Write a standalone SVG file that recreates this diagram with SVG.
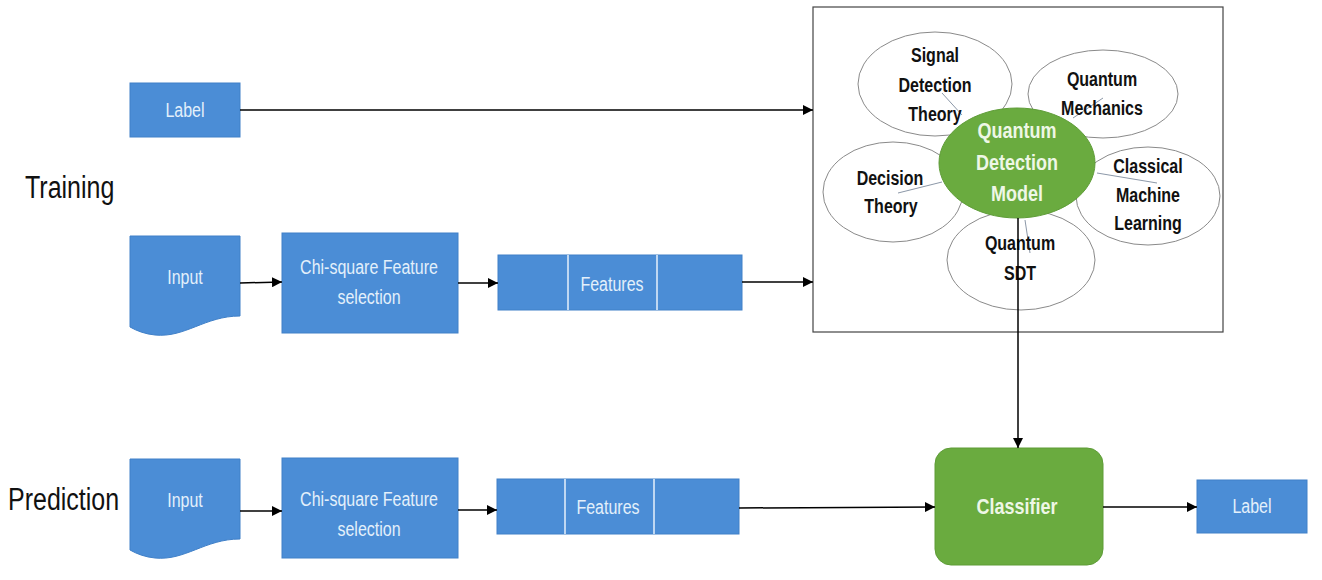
<svg xmlns="http://www.w3.org/2000/svg" width="1322" height="580" viewBox="0 0 1322 580">
<defs>
<marker id="ah" viewBox="0 0 10 10" refX="10" refY="5" markerWidth="10" markerHeight="10" markerUnits="userSpaceOnUse" orient="auto">
<path d="M0,0 L10,5 L0,10 Z" fill="#000"/>
</marker>
<style>
.blue{fill:#4B8DD6;stroke:#4080C8;stroke-width:1}
.div{stroke:#E6F1FB;stroke-width:1.5}
.green{fill:#6AAB3F;stroke:#5E9C37;stroke-width:1}
.bt{font-family:"Liberation Sans",Arial,sans-serif;font-size:16px;fill:#E3F0FB;text-anchor:middle}
.ct{font-family:"Liberation Sans",Arial,sans-serif;font-size:18px;font-weight:bold;fill:#EEF7E6;text-anchor:middle}
.pt{font-family:"Liberation Sans",Arial,sans-serif;font-size:16px;font-weight:bold;fill:#111;text-anchor:middle}
.st{font-family:"Liberation Sans",Arial,sans-serif;font-size:25px;fill:#111}
.pet{fill:#fff;stroke:#8a8a8a;stroke-width:1}
.faint{stroke:#8C98A8;stroke-width:1}
.conn{stroke:#000;stroke-width:1.5;fill:none;marker-end:url(#ah)}
</style>
</defs>
<rect width="1322" height="580" fill="#fff"/>

<g id="stage-labels">
<text class="st" transform="translate(25,198) scale(1,1.25)">Training</text>
<text class="st" transform="translate(8,510) scale(1,1.25)">Prediction</text>
</g>

<g id="label-train">
<rect class="blue" x="130" y="83" width="110" height="54"/>
<text class="bt" transform="translate(185,117) scale(1,1.25)">Label</text>
</g>

<g id="input-train">
<path class="blue" d="M130,236 H240 V316 C205,316 185,338 155,335 C145,334 137,331 130,327 Z"/>
<text class="bt" transform="translate(185,284) scale(1,1.25)">Input</text>
</g>

<g id="chi-train">
<rect class="blue" x="282" y="233" width="176" height="100"/>
<text class="bt" transform="translate(369,274) scale(1,1.25)">Chi-square Feature</text>
<text class="bt" transform="translate(369,304) scale(1,1.25)">selection</text>
</g>

<g id="features-train">
<rect class="blue" x="498" y="255" width="244" height="55"/>
<line class="div" x1="568" y1="255" x2="568" y2="310"/>
<line class="div" x1="657" y1="255" x2="657" y2="310"/>
<text class="bt" transform="translate(612,291) scale(1,1.25)">Features</text>
</g>

<g id="model-box">
<rect x="813" y="7" width="410" height="325" fill="#fff" stroke="#444" stroke-width="1.2"/>
<g id="petal-signal">
<ellipse class="pet" cx="935" cy="84" rx="77" ry="52"/>
<line class="faint" x1="942" y1="93" x2="962" y2="115"/>
<text class="pt" transform="translate(935,62) scale(1,1.25)">Signal</text>
<text class="pt" transform="translate(935,92) scale(1,1.25)">Detection</text>
<text class="pt" transform="translate(935,121) scale(1,1.25)">Theory</text>
</g>
<g id="petal-qm">
<ellipse class="pet" cx="1103" cy="94" rx="75" ry="44"/>
<line class="faint" x1="1103" y1="98" x2="1073" y2="118"/>
<text class="pt" transform="translate(1102,86) scale(1,1.25)">Quantum</text>
<text class="pt" transform="translate(1102,115) scale(1,1.25)">Mechanics</text>
</g>
<g id="petal-decision">
<ellipse class="pet" cx="893" cy="192" rx="70" ry="50"/>
<line class="faint" x1="898" y1="193" x2="942" y2="182"/>
<text class="pt" transform="translate(890,185) scale(1,1.25)">Decision</text>
<text class="pt" transform="translate(891,213) scale(1,1.25)">Theory</text>
</g>
<g id="petal-cml">
<ellipse class="pet" cx="1148" cy="196" rx="72" ry="49"/>
<line class="faint" x1="1097" y1="173" x2="1157" y2="183"/>
<text class="pt" transform="translate(1148,173) scale(1,1.25)">Classical</text>
<text class="pt" transform="translate(1148,202) scale(1,1.25)">Machine</text>
<text class="pt" transform="translate(1148,230) scale(1,1.25)">Learning</text>
</g>
<g id="petal-qsdt">
<ellipse class="pet" cx="1021" cy="260" rx="74" ry="50"/>
<line class="faint" x1="1025" y1="220" x2="1030" y2="253"/>
<text class="pt" transform="translate(1020,250) scale(1,1.25)">Quantum</text>
<text class="pt" transform="translate(1020,280) scale(1,1.25)">SDT</text>
</g>
<g id="qdm">
<ellipse class="green" cx="1017" cy="163" rx="78" ry="55"/>
<text class="ct" transform="translate(1017,138) scale(1,1.25)">Quantum</text>
<text class="ct" transform="translate(1017,170) scale(1,1.25)">Detection</text>
<text class="ct" transform="translate(1017,201) scale(1,1.25)">Model</text>
</g>
</g>

<g id="input-pred">
<path class="blue" d="M130,459 H240 V539 C205,539 185,561 155,558 C145,557 137,554 130,550 Z"/>
<text class="bt" transform="translate(185,507) scale(1,1.25)">Input</text>
</g>

<g id="chi-pred">
<rect class="blue" x="282" y="458" width="176" height="100"/>
<text class="bt" transform="translate(369,506) scale(1,1.25)">Chi-square Feature</text>
<text class="bt" transform="translate(369,536) scale(1,1.25)">selection</text>
</g>

<g id="features-pred">
<rect class="blue" x="497" y="479" width="242" height="55"/>
<line class="div" x1="565" y1="479" x2="565" y2="534"/>
<line class="div" x1="654" y1="479" x2="654" y2="534"/>
<text class="bt" transform="translate(608,514) scale(1,1.25)">Features</text>
</g>

<g id="classifier">
<rect class="green" x="935" y="448" width="168" height="117" rx="16" ry="16"/>
<text class="ct" transform="translate(1017,514) scale(1,1.25)">Classifier</text>
</g>

<g id="label-pred">
<rect class="blue" x="1197" y="480" width="110" height="53"/>
<text class="bt" transform="translate(1252,513) scale(1,1.25)">Label</text>
</g>

<g id="connectors">
<line class="conn" x1="240" y1="110" x2="813" y2="110"/>
<line class="conn" x1="240" y1="283" x2="282" y2="282"/>
<line class="conn" x1="458" y1="283" x2="498" y2="283"/>
<line class="conn" x1="742" y1="282" x2="813" y2="282"/>
<line class="conn" x1="1018" y1="218" x2="1018" y2="448"/>
<line class="conn" x1="240" y1="511" x2="282" y2="511"/>
<line class="conn" x1="458" y1="510" x2="497" y2="510"/>
<line class="conn" x1="739" y1="508" x2="935" y2="507"/>
<line class="conn" x1="1103" y1="507" x2="1197" y2="507"/>
</g>
</svg>
